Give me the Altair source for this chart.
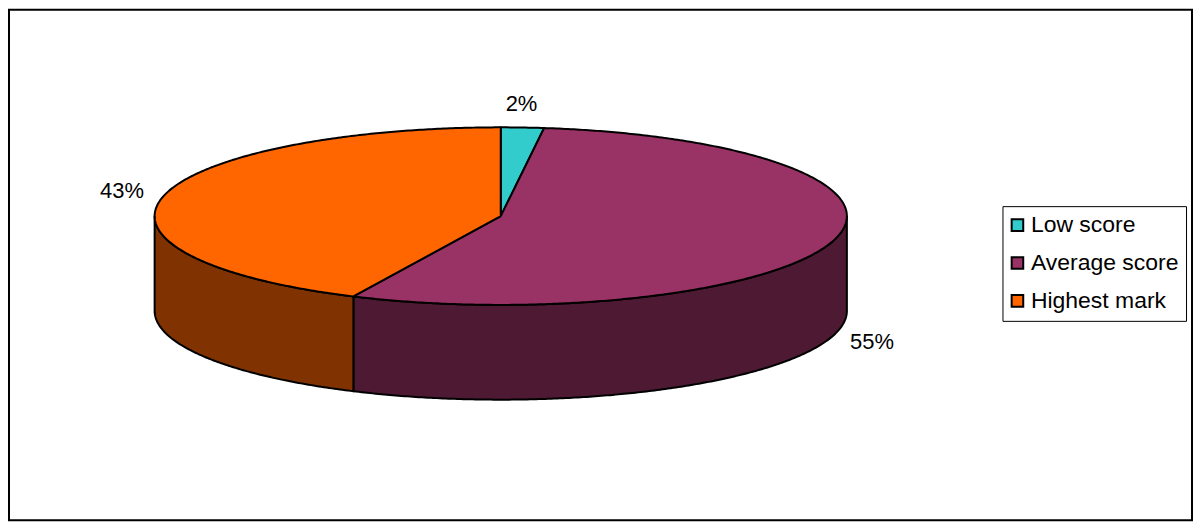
import math
import altair as alt
import pandas as pd

# Chart values
categories = ["Low score", "Average score", "Highest mark"]
shares = [2, 55, 43]
top_colors = ["#33CCCC", "#993366", "#FF6600"]
side_colors = ["#1A6666", "#4D1933", "#803300"]
labels = ["2%", "55%", "43%"]

# Pie geometry, in plot pixels
W, H = 1186, 512
CX, CY = 493, 207
RX, RY = 347, 89
DEPTH = 95 / RY
label_offsets = [(-1, -24), (39, 101), (-41, -6)]


def ell(deg):
    t = math.radians(deg)
    return math.sin(t), math.cos(t)


def arc(a, b):
    n = max(2, int(abs(b - a) * 2))
    return [a + (b - a) * i / n for i in range(n + 1)]


tops, sides, texts = [], [], []
start = 0.0
for cat, share, side, lab, off in zip(categories, shares, side_colors, labels, label_offsets):
    end = start + share * 3.6
    pts = [(0.0, 0.0)] + [ell(d) for d in arc(start, end)] + [(0.0, 0.0)]
    tops += [{"cat": cat, "i": i, "x": x, "y": y} for i, (x, y) in enumerate(pts)]
    a, b = max(start, 90.0), min(end, 270.0)
    if a < b:
        upper = [ell(d) for d in arc(a, b)]
        lower = [(x, y - DEPTH) for x, y in reversed(upper)]
        ring = upper + lower + upper[:1]
        sides += [{"cat": cat, "i": i, "x": x, "y": y, "side": side} for i, (x, y) in enumerate(ring)]
    mx, my = ell((start + end) / 2)
    texts.append({"label": lab, "x": mx, "y": my, "dx": off[0], "dy": off[1]})
    start = end

x_scale = alt.Scale(domain=[-CX / RX, (W - CX) / RX], nice=False, zero=False)
y_scale = alt.Scale(domain=[(CY - H) / RY, CY / RY], nice=False, zero=False)
X = alt.X("x:Q", scale=x_scale, axis=None)
Y = alt.Y("y:Q", scale=y_scale, axis=None)

side_layer = (
    alt.Chart(pd.DataFrame(sides))
    .mark_line(stroke="black", strokeWidth=2, strokeJoin="round")
    .encode(x=X, y=Y, order="i:Q", detail="cat:N", fill=alt.Fill("side:N", scale=None, legend=None))
)

top_layer = (
    alt.Chart(pd.DataFrame(tops))
    .mark_line(stroke="black", strokeWidth=2, strokeJoin="round")
    .encode(
        x=X,
        y=Y,
        order="i:Q",
        detail="cat:N",
        fill=alt.Fill(
            "cat:N",
            scale=alt.Scale(domain=categories, range=top_colors),
            sort=categories,
            legend=alt.Legend(
                title=None,
                orient="none",
                legendX=996,
                legendY=197,
                symbolType="square",
                symbolSize=135,
                symbolStrokeColor="black",
                symbolStrokeWidth=2,
                symbolOpacity=1,
                symbolOffset=-4,
                labelFont="Liberation Sans",
                labelFontSize=23,
                labelColor="black",
                labelOffset=2,
                labelLimit=300,
                rowPadding=14,
                padding=7.5,
                strokeColor="black",
                fillColor="white",
            ),
        ),
    )
)

text_layers = [
    alt.Chart(pd.DataFrame([t]))
    .mark_text(font="Liberation Sans", fontSize=22, color="black", dx=t["dx"], dy=t["dy"])
    .encode(x=X, y=Y, text="label:N")
    for t in texts
]

chart = (
    alt.layer(side_layer, top_layer, *text_layers)
    .resolve_scale(fill="independent")
    .properties(
        width=W,
        height=H,
        padding=1,
        background="white",
        autosize=alt.AutoSizeParams(type="none"),
    )
    .configure_view(stroke="black", strokeWidth=2, fill="white")
)

chart.save("out.html", embed_options={"renderer": "svg", "actions": False})
